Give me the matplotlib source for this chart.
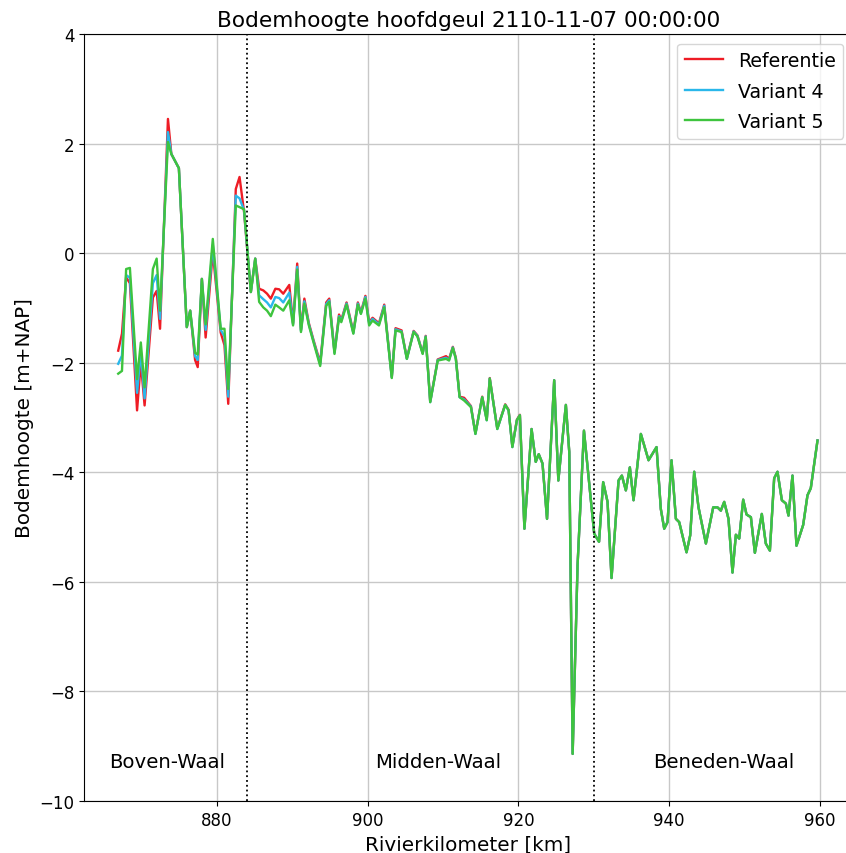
import matplotlib
matplotlib.use("Agg")
import matplotlib.pyplot as plt

# river kilometre of each vertex
km = [866.9, 867.4, 867.95, 868.45, 869.4, 869.9, 870.4, 871.5, 872.0, 872.45,
      873.5, 873.95, 874.95, 876.0, 876.45, 877.1, 877.45, 878.0, 878.5, 879.45,
      880.5, 881.0, 881.5, 882.5, 883.0, 883.6, 884.5, 885.08, 885.6, 886.15,
      886.65, 887.15, 887.75, 888.25, 888.8, 889.6, 890.1, 890.65, 891.15, 891.6,
      892.2, 892.8, 893.7, 894.5, 894.9, 895.6, 896.2, 896.5, 897.2, 898.1,
      898.7, 899.1, 899.7, 900.2, 900.65, 901.5, 902.2, 903.2, 903.7, 904.5,
      905.2, 906.1, 906.6, 907.3, 907.7, 908.3, 909.3, 910.4, 910.8, 911.3,
      911.7, 912.2, 912.8, 913.7, 914.3, 915.2, 915.8, 916.2, 917.2, 918.25,
      918.7, 919.2, 919.8, 920.2, 920.8, 921.75, 922.3, 922.7, 923.2, 923.8,
      924.75, 925.3, 926.3, 926.75, 927.2, 927.85, 928.7, 929.6, 930.06, 930.7,
      931.25, 931.83, 932.36, 933.29, 933.73, 934.26, 934.79, 935.28, 936.25, 937.27,
      938.33, 938.9, 939.35, 939.79, 940.32, 940.9, 941.34, 942.31, 942.8, 943.33,
      943.9, 944.88, 945.85, 946.42, 946.86, 947.31, 947.88, 948.41, 948.86, 949.3,
      949.83, 950.27, 950.85, 951.38, 952.3, 952.83, 953.37, 953.94, 954.38, 954.96,
      955.49, 955.84, 956.37, 956.9, 957.79, 958.36, 958.8, 959.69]

# downstream part shared by all three series (from 884.5 km)
common = [-0.71, -0.10]
down = [-3.24, -4.48, -5.12, -5.27,
        -4.18, -4.54, -5.93, -4.15, -4.06, -4.33, -3.91, -4.51, -3.30, -3.78,
        -3.54, -4.67, -5.03, -4.91, -3.78, -4.85, -4.91, -5.46, -5.15, -3.99,
        -4.64, -5.30, -4.64, -4.64, -4.70, -4.54, -4.85, -5.83, -5.14, -5.21,
        -4.50, -4.77, -4.82, -5.47, -4.76, -5.30, -5.43, -4.11, -3.99, -4.51,
        -4.57, -4.79, -4.06, -5.34, -4.96, -4.42, -4.29, -3.42]

ref_up = [-1.78, -1.47, -0.44, -0.55, -2.87, -1.99, -2.78, -0.81, -0.69, -1.38,
          2.45, 1.81, 1.55, -1.35, -1.05, -1.95, -2.08, -0.47, -1.54, 0.02,
          -1.45, -1.68, -2.75, 1.17, 1.39, 0.75]
v4_up = [-2.02, -1.87, -0.40, -0.45, -2.55, -1.80, -2.65, -0.55, -0.40, -1.20,
         2.21, 1.81, 1.55, -1.35, -1.05, -1.88, -1.95, -0.47, -1.40, 0.15,
         -1.40, -1.52, -2.62, 1.05, 1.00, 0.78]
v5_up = [-2.20, -2.15, -0.29, -0.27, -2.30, -1.63, -2.45, -0.29, -0.10, -1.05,
         2.03, 1.81, 1.55, -1.35, -1.05, -1.82, -1.85, -0.47, -1.30, 0.26,
         -1.38, -1.38, -2.48, 0.87, 0.84, 0.80]

ref_mid = [-0.65, -0.68, -0.74, -0.83, -0.65, -0.66, -0.74, -0.58, -1.28, -0.19,
           -1.40, -0.83, -1.28, -1.58, -2.00, -0.90, -0.83, -1.80, -1.12, -1.22,
           -0.90, -1.44, -0.90, -1.08, -0.78, -1.26, -1.18, -1.28, -0.94, -2.26,
           -1.37, -1.41, -1.92, -1.42, -1.50, -1.82, -1.51, -2.71, -1.94, -1.88,
           -1.93, -1.71, -1.91, -2.62, -2.64, -2.79, -3.29, -2.62, -3.04, -2.28,
           -3.20, -2.76, -2.86, -3.53, -3.04, -2.95, -5.03, -3.21, -3.81, -3.67,
           -3.84, -4.85, -2.32, -4.15, -2.77, -3.63, -9.14, -5.70]
v4_mid = [-0.77, -0.84, -0.90, -0.99, -0.80, -0.82, -0.90, -0.72, -1.30, -0.25,
          -1.42, -0.88, -1.30, -1.60, -2.03, -0.93, -0.86, -1.82, -1.15, -1.24,
          -0.92, -1.46, -0.92, -1.10, -0.80, -1.29, -1.20, -1.30, -0.96, -2.27,
          -1.39, -1.43, -1.93, -1.43, -1.51, -1.83, -1.52, -2.72, -1.95, -1.91,
          -1.95, -1.72, -1.93, -2.63, -2.67, -2.80, -3.30, -2.63, -3.05, -2.29,
          -3.21, -2.77, -2.87, -3.54, -3.05, -2.96, -5.03, -3.21, -3.81, -3.67,
          -3.84, -4.85, -2.32, -4.15, -2.77, -3.63, -9.14, -5.70]
v5_mid = [-0.89, -0.99, -1.05, -1.15, -0.94, -0.99, -1.05, -0.86, -1.32, -0.30,
          -1.44, -0.92, -1.32, -1.62, -2.06, -0.96, -0.89, -1.84, -1.17, -1.26,
          -0.94, -1.47, -0.94, -1.11, -0.83, -1.32, -1.23, -1.32, -0.99, -2.28,
          -1.41, -1.44, -1.93, -1.44, -1.52, -1.84, -1.53, -2.72, -1.96, -1.93,
          -1.96, -1.73, -1.93, -2.63, -2.69, -2.81, -3.30, -2.63, -3.05, -2.29,
          -3.21, -2.77, -2.87, -3.54, -3.05, -2.96, -5.03, -3.21, -3.81, -3.67,
          -3.84, -4.85, -2.32, -4.15, -2.77, -3.63, -9.14, -5.70]

referentie = ref_up + common + ref_mid + down
variant4 = v4_up + common + v4_mid + down
variant5 = v5_up + common + v5_mid + down

series_names = ["Referentie", "Variant 4", "Variant 5"]
series_colors = ["#ee1c25", "#2ab7ea", "#3ec43e"]

boundaries = [884, 930]
regions = ["Boven-Waal", "Midden-Waal", "Beneden-Waal"]
region_x = [873.4, 909.3, 947.3]
region_y = -9.27

title = "Bodemhoogte hoofdgeul 2110-11-07 00:00:00"

fig = plt.figure(figsize=(8.46, 8.54), dpi=100)
ax = fig.add_axes([84/846, 52/854, 769/846, 767/854])

for vals, name, col in zip([referentie, variant4, variant5], series_names, series_colors):
    ax.plot(km, vals, color=col, lw=1.7, label=name)

for b in boundaries:
    ax.axvline(b, color="black", ls=":", lw=1.3)

for name, x in zip(regions, region_x):
    ax.text(x, region_y, name, ha="center", va="center", fontsize=14.2)

ax.set_xlim(862.36, 964.4)
ax.set_ylim(-10, 4)
ax.set_xticks([880, 900, 920, 940, 960])
ax.set_yticks([-10, -8, -6, -4, -2, 0, 2, 4])
ax.tick_params(labelsize=12)
ax.grid(True, color="#c8c8c8", lw=1.0)
ax.set_xlabel("Rivierkilometer [km]", fontsize=14.4)
ax.set_ylabel("Bodemhoogte [m+NAP]", fontsize=14.4)
ax.set_title(title, fontsize=15.6)
ax.legend(loc="upper right", fontsize=13.7, labelspacing=0.6)

fig.savefig("out.png", dpi=100)
